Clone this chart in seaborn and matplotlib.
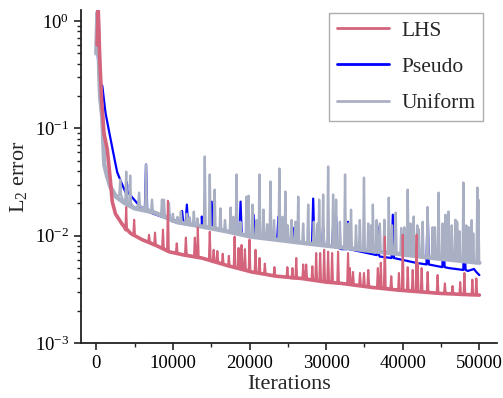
import numpy as np
import pandas as pd
import seaborn as sns
import matplotlib.pyplot as plt
from matplotlib.lines import Line2D
from matplotlib.ticker import LogLocator, MultipleLocator

# baseline curves (iteration, L2 error)
lhs_it = [100, 250, 450, 700, 1000, 1430, 1800, 2080, 2500, 3380, 4500, 5970, 8000, 9480,
          11500, 13770, 17000, 20260, 23500, 26750, 30000, 31950, 36000, 39740, 45000, 50000]
lhs_err = [0.6, 1.3, 0.45, 0.18, 0.09, 0.064, 0.035, 0.0208, 0.016, 0.0128, 0.0105, 0.0092,
           0.0080, 0.0071, 0.0066, 0.0062, 0.0053, 0.0046, 0.0042, 0.0040, 0.0037, 0.0036,
           0.0033, 0.0031, 0.0029, 0.0028]

pseudo_it = [0, 150, 300, 500, 780, 1200, 1690, 2470, 2730, 3380, 4420, 5710, 7000, 8570,
             10130, 13770, 17000, 20260, 26000, 32000, 37000, 41700, 46000, 48500, 49300,
             49600, 50000]
pseudo_err = [0.75, 0.55, 0.35, 0.26, 0.25, 0.14, 0.092, 0.048, 0.039, 0.030, 0.024, 0.0187,
              0.0165, 0.0150, 0.0141, 0.0122, 0.0110, 0.0098, 0.0087, 0.0075, 0.0064, 0.0056,
              0.0050, 0.0047, 0.0049, 0.0046, 0.0043]

uniform_it = [0, 150, 260, 400, 520, 780, 1040, 1400, 1820, 2600, 3640, 5000, 7530, 10520,
              13770, 17000, 20260, 24000, 28000, 32000, 36000, 40000, 44000, 48000, 50000]
uniform_err = [0.5, 1.2, 0.8, 0.3, 0.19, 0.127, 0.046, 0.036, 0.0287, 0.023, 0.0203, 0.018,
               0.0165, 0.0134, 0.0122, 0.0110, 0.0098, 0.0091, 0.0084, 0.0078, 0.0072, 0.0067,
               0.0062, 0.0058, 0.0056]

# spikes: position, peak and foot
lhs_spk_x = [3900, 4940, 6880, 7660, 8700, 9350, 10500, 11690, 12860, 13250, 14810, 15320,
             15800, 16500, 17300, 18050, 18570, 18960, 19400, 20000, 20780, 21300, 22000,
             23250, 24940, 25600, 26100, 27010, 27400, 28200, 28700, 29220, 29740, 30260,
             30780, 31560, 32860, 33100, 33510, 34420, 34940, 35500, 36750, 37140, 37660,
             38500, 39500, 40000, 40650, 41300, 41820, 41950, 42470, 43250, 44550, 45500,
             46500, 47500, 48050, 49090, 49610]
lhs_spk_top = [0.0185, 0.0141, 0.0102, 0.0107, 0.0114, 0.0212, 0.0085, 0.0096, 0.0096, 0.0119,
               0.0109, 0.0074, 0.0072, 0.0068, 0.0065, 0.0098, 0.0077, 0.0082, 0.0075, 0.0092,
               0.0074, 0.0062, 0.0055, 0.0051, 0.0051, 0.0050, 0.0062, 0.0054, 0.0054, 0.0052,
               0.0069, 0.0069, 0.0074, 0.0071, 0.0069, 0.0071, 0.0069, 0.0050, 0.0046, 0.0045,
               0.0045, 0.0048, 0.0050, 0.0056, 0.0098, 0.0042, 0.0045, 0.0102, 0.0051, 0.0048,
               0.0102, 0.0056, 0.0050, 0.0046, 0.0043, 0.0036, 0.0034, 0.0037, 0.0045, 0.0039,
               0.0040]
lhs_spk_base = [0.0112, 0.0100, 0.0088, 0.0083, 0.0077, 0.0073, 0.0069, 0.0067, 0.0064,
                0.0063, 0.0060, 0.0059, 0.0057, 0.0055, 0.0052, 0.0051, 0.0050, 0.0050,
                0.0049, 0.0047, 0.0046, 0.0045, 0.0044, 0.0042, 0.0041, 0.0040, 0.0040,
                0.0040, 0.0040, 0.0039, 0.0039, 0.0038, 0.0038, 0.0038, 0.0037, 0.0036,
                0.0036, 0.0035, 0.0035, 0.0035, 0.0034, 0.0034, 0.0033, 0.0033, 0.0033,
                0.0032, 0.0031, 0.0031, 0.0031, 0.0031, 0.0030, 0.0030, 0.0030, 0.0030,
                0.0029, 0.0029, 0.0029, 0.0028, 0.0028, 0.0028, 0.0028]

pseudo_spk_x = [3900, 4030, 6490, 9480, 11200, 11820, 13770, 15060, 18830, 20520, 23770,
                25840, 28310, 29610, 30910, 31300, 32860, 36750, 38700, 43250, 45320, 48050]
pseudo_spk_top = [0.032, 0.030, 0.0461, 0.0164, 0.0170, 0.0195, 0.0151, 0.0208, 0.0208, 0.0157,
                  0.0151, 0.0119, 0.0222, 0.0121, 0.0119, 0.0151, 0.0135, 0.0121, 0.0157,
                  0.0183, 0.0109, 0.0107]
pseudo_spk_base = [0.026, 0.025, 0.018, 0.0145, 0.0133, 0.013, 0.0122, 0.0118, 0.0104, 0.0098,
                   0.0093, 0.0088, 0.0084, 0.0082, 0.0079, 0.0078, 0.0075, 0.0066, 0.0062,
                   0.0054, 0.0051, 0.0048]

uniform_spk_x = [3120, 3900, 4420, 5580, 6490, 7270, 8570, 8830, 9480, 10000, 10600, 11040,
                 11820, 12200, 12730, 13200, 14160, 14810, 15450, 16200, 16800, 17530, 17900,
                 18310, 18800, 19610, 19870, 20390, 20900, 21300, 21820, 22300, 22730, 23200,
                 23900, 24300, 24680, 25000, 25500, 26000, 26360, 27000, 27660, 28400, 28900,
                 29090, 29610, 30260, 30910, 31300, 31800, 32470, 32900, 33250, 33900, 34400,
                 34940, 35500, 35900, 36100, 36600, 37010, 37600, 38180, 38600, 39090, 39800,
                 40200, 40650, 41000, 41430, 41900, 42100, 42600, 43250, 43900, 44200, 44680,
                 45200, 45580, 45970, 46400, 46880, 47100, 47400, 47920, 48300, 48600, 49000,
                 49200, 49740, 49870]
uniform_spk_top = [0.0334, 0.0396, 0.0364, 0.0252, 0.0461, 0.0217, 0.0217, 0.0217, 0.0203,
                   0.0160, 0.0150, 0.0168, 0.0160, 0.0148, 0.0168, 0.0145, 0.0547, 0.0372,
                   0.0269, 0.0180, 0.0140, 0.0183, 0.0150, 0.0372, 0.0135, 0.0231, 0.0236,
                   0.0195, 0.0140, 0.0372, 0.0175, 0.0128, 0.0320, 0.0140, 0.0423, 0.0150,
                   0.0258, 0.0125, 0.0140, 0.0135, 0.0231, 0.0130, 0.0195, 0.0135, 0.0130,
                   0.0217, 0.0242, 0.0442, 0.0242, 0.0217, 0.0135, 0.0372, 0.0130, 0.0175,
                   0.0125, 0.0140, 0.0348, 0.0130, 0.0125, 0.0195, 0.0140, 0.0130, 0.0141,
                   0.0226, 0.0125, 0.0164, 0.0118, 0.0120, 0.0269, 0.0130, 0.0151, 0.0125,
                   0.0115, 0.0135, 0.0183, 0.0120, 0.0120, 0.0252, 0.0130, 0.0157, 0.0168,
                   0.0125, 0.0141, 0.0135, 0.0110, 0.0313, 0.0125, 0.0120, 0.0140, 0.0105,
                   0.0281, 0.0217]
uniform_spk_base = [0.024, 0.020, 0.020, 0.019, 0.018, 0.017, 0.0155, 0.0155, 0.015, 0.0135,
                    0.0133, 0.013, 0.013, 0.0127, 0.0125, 0.0124, 0.0122, 0.012, 0.012, 0.0115,
                    0.0112, 0.011, 0.0109, 0.0108, 0.0105, 0.0102, 0.0101, 0.0098, 0.0097,
                    0.0097, 0.0096, 0.0095, 0.0094, 0.0093, 0.0091, 0.0091, 0.0090, 0.0089,
                    0.0088, 0.0088, 0.0087, 0.0086, 0.0085, 0.0084, 0.0083, 0.0083, 0.0082,
                    0.0081, 0.0080, 0.0079, 0.0078, 0.0077, 0.0076, 0.0076, 0.0075, 0.0074,
                    0.0073, 0.0073, 0.0072, 0.0072, 0.0071, 0.0071, 0.0070, 0.0070, 0.0069,
                    0.0068, 0.0067, 0.0067, 0.0066, 0.0066, 0.0065, 0.0065, 0.0064, 0.0064,
                    0.0063, 0.0062, 0.0062, 0.0062, 0.0061, 0.0061, 0.0060, 0.0059, 0.0059,
                    0.0059, 0.0059, 0.0058, 0.0058, 0.0058, 0.0057, 0.0057, 0.0056, 0.0056]

c_lhs = "#d4647c"
c_pseudo = "#0000ff"
c_uniform = "#aab0c4"


def with_spikes(bx, by, sx, stop, sbase, half=110):
    # baseline knots plus a narrow triangle for every spike
    xs = list(bx)
    ys = list(by)
    for x, t, b in zip(sx, stop, sbase):
        xs += [x - half, x, x + half]
        ys += [b, t, b]
    order = np.argsort(xs, kind="stable")
    return np.asarray(xs)[order], np.asarray(ys)[order]


sns.set_theme(style="ticks")
plt.rcParams['font.family'] = ['Liberation Serif', 'DejaVu Serif']
plt.rcParams['mathtext.fontset'] = 'custom'
plt.rcParams['mathtext.rm'] = 'Liberation Serif'
plt.rcParams['mathtext.it'] = 'Liberation Serif:italic'

fig = plt.figure(figsize=(5.03, 3.98), dpi=100)
ax = fig.add_axes([0.161, 0.138, 0.827, 0.837])

ux, uy = with_spikes(uniform_it, uniform_err, uniform_spk_x, uniform_spk_top, uniform_spk_base)
px, py = with_spikes(pseudo_it, pseudo_err, pseudo_spk_x, pseudo_spk_top, pseudo_spk_base, 150)
lx, ly = with_spikes(lhs_it, lhs_err, lhs_spk_x, lhs_spk_top, lhs_spk_base)

# pseudo underneath, uniform over it, LHS on top
sns.lineplot(x=px, y=py, color=c_pseudo, lw=1.6, estimator=None, sort=False, ax=ax)
sns.lineplot(x=uniform_it, y=uniform_err, color=c_uniform, lw=3.2, ax=ax)
sns.lineplot(x=ux, y=uy, color=c_uniform, lw=1.7, estimator=None, sort=False, ax=ax)
sns.lineplot(x=lhs_it, y=lhs_err, color=c_lhs, lw=2.6, ax=ax)
sns.lineplot(x=lx, y=ly, color=c_lhs, lw=1.5, estimator=None, sort=False, ax=ax)

ax.set_yscale('log')
ax.set_ylim(1e-3, 1.27)
ax.set_xlim(-2000, 52300)
ax.xaxis.set_major_locator(MultipleLocator(10000))
ax.xaxis.set_minor_locator(MultipleLocator(5000))
ax.yaxis.set_minor_locator(LogLocator(base=10, subs=np.arange(2, 10)))

ax.set_xlabel("Iterations", fontsize=16, labelpad=2)
ax.set_ylabel("L$_2$ error", fontsize=16, labelpad=4)
ax.tick_params(axis='both', which='major', direction='out', length=5, width=1.2,
               labelsize=13.5, colors='#222222', labelcolor='black')
ax.tick_params(axis='both', which='minor', direction='out', length=3, width=1.0,
               colors='#222222')
sns.despine(ax=ax)
for s in ['left', 'bottom']:
    ax.spines[s].set_linewidth(1.3)
    ax.spines[s].set_color('#222222')

handles = [Line2D([], [], color=c_lhs, lw=2),
           Line2D([], [], color=c_pseudo, lw=2),
           Line2D([], [], color=c_uniform, lw=2)]
leg = ax.legend(handles, ["LHS", "Pseudo", "Uniform"], loc='upper right',
                bbox_to_anchor=(483 / 503, 1 - 13 / 398), bbox_transform=fig.transFigure,
                borderaxespad=0, fontsize=15.5, frameon=True, fancybox=False,
                handlelength=2.45, labelspacing=0.76, borderpad=0.35, handletextpad=0.55)
leg.get_frame().set_edgecolor('#999999')
leg.get_frame().set_linewidth(1.0)

fig.savefig("out.png", dpi=100)
